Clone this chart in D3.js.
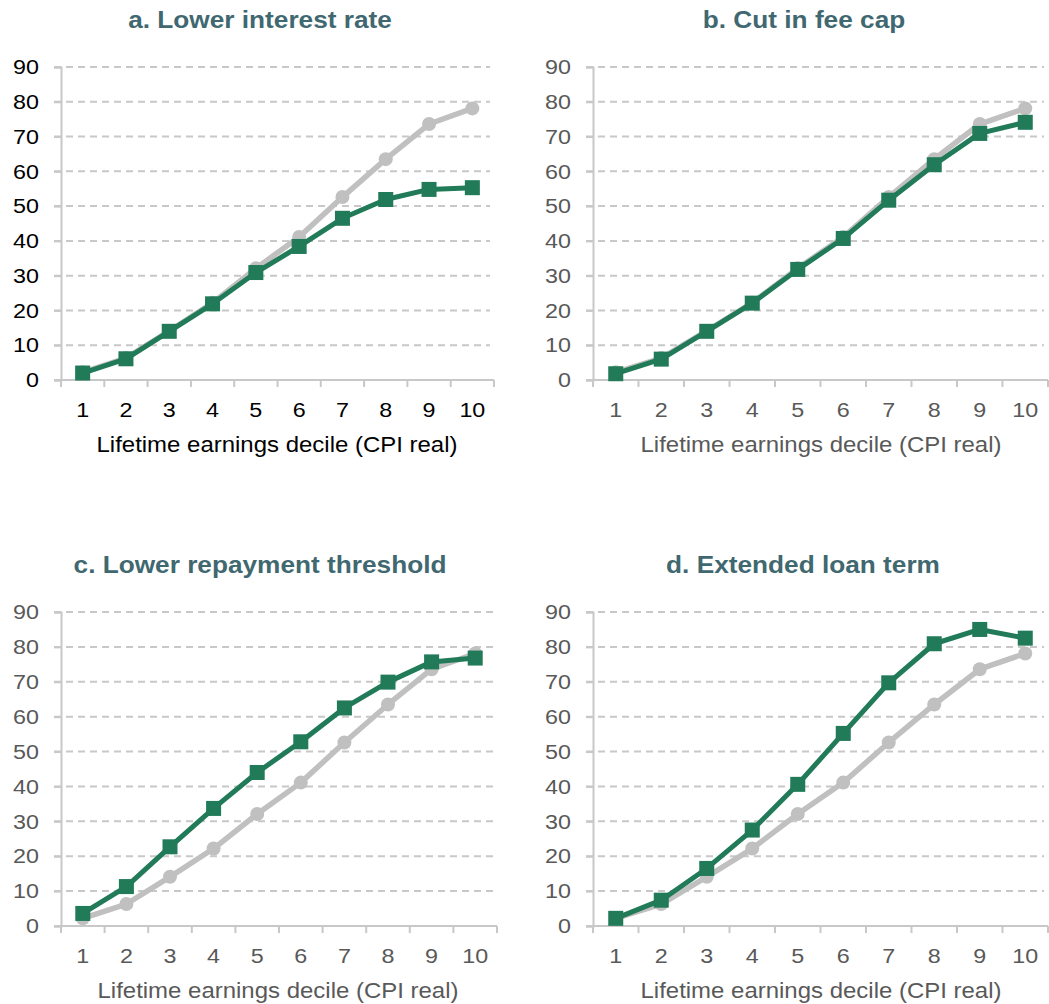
<!DOCTYPE html>
<html>
<head>
<meta charset="utf-8">
<script src="https://cdn.jsdelivr.net/npm/d3@7"></script>
<style>
  html, body { margin: 0; padding: 0; background: #ffffff; }
  svg { display: block; font-family: "Liberation Sans", Arial, sans-serif; }
</style>
</head>
<body>
<svg id="chart" width="1049" height="1004"></svg>
<script>
// Deciles of lifetime earnings (CPI real)
const deciles = [1, 2, 3, 4, 5, 6, 7, 8, 9, 10];
const yTicks = [0, 10, 20, 30, 40, 50, 60, 70, 80, 90];

// Current system, shared by every panel
const baseline = [2.2, 6.3, 14.1, 22.2, 32.1, 41.1, 52.6, 63.5, 73.6, 78.1];

// Alternative policies
const lowerInterest = [2.0, 6.1, 14.0, 21.9, 30.9, 38.4, 46.5, 51.9, 54.8, 55.3];
const feeCapCut = [1.8, 6.0, 14.0, 22.1, 31.8, 40.7, 51.7, 61.9, 70.9, 74.1];
const lowerThreshold = [3.6, 11.3, 22.7, 33.7, 44.0, 52.8, 62.5, 69.9, 75.7, 76.8];
const extendedTerm = [2.2, 7.4, 16.5, 27.5, 40.6, 55.2, 69.7, 80.9, 85.0, 82.5];

const titles = [
  "a. Lower interest rate",
  "b. Cut in fee cap",
  "c. Lower repayment threshold",
  "d. Extended loan term"
];
const policies = [lowerInterest, feeCapCut, lowerThreshold, extendedTerm];
const xTitle = "Lifetime earnings decile (CPI real)";

const GREEN = "#217a58";
const GREY = "#c0c0c0";
const TITLE = "#3f6870";
const GRID = "#c8c8c8";

// Panel frames: plot-area rectangles, title and axis-title centres
const panels = [
  { left: 61, right: 494, top: 67, bottom: 380, titleX: 260, titleY: 28, axisX: 277, textColor: "#000000" },
  { left: 593, right: 1048, top: 67, bottom: 380, titleX: 804, titleY: 28, axisX: 821, textColor: "#595959" },
  { left: 61, right: 497, top: 612, bottom: 926, titleX: 260, titleY: 573, axisX: 278, textColor: "#595959" },
  { left: 593, right: 1048, top: 612, bottom: 926, titleX: 803, titleY: 573, axisX: 821, textColor: "#595959" }
];

// Text is set slightly wide, as in the original export
const TICK_SX = 1.11, AXIS_SX = 1.09, TITLE_SX = 1.14;

const svg = d3.select("#chart");

panels.forEach((p, i) => {
  const g = svg.append("g");

  const x = d3.scaleBand().domain(deciles).range([p.left, p.right]).paddingInner(0).paddingOuter(0);
  const y = d3.scaleLinear().domain([0, 90]).range([p.bottom, p.top]);
  const cx = d => x(d) + x.bandwidth() / 2;

  // Title
  g.append("text")
    .attr("transform", `translate(${p.titleX},${p.titleY}) scale(${TITLE_SX},1)`)
    .attr("text-anchor", "middle")
    .attr("font-size", 23)
    .attr("font-weight", "bold")
    .attr("fill", TITLE)
    .text(titles[i]);

  // Horizontal dashed gridlines
  g.append("g")
    .selectAll("line")
    .data(yTicks.filter(t => t > 0))
    .join("line")
    .attr("x1", p.left - 7)
    .attr("x2", p.right - 4)
    .attr("y1", d => y(d))
    .attr("y2", d => y(d))
    .attr("stroke", GRID)
    .attr("stroke-width", 2)
    .attr("stroke-dasharray", "7,5");

  // Y axis
  const yAxis = g.append("g")
    .attr("transform", `translate(${p.left},0)`)
    .call(d3.axisLeft(y).tickValues(yTicks).tickSize(7).tickPadding(14));
  yAxis.select(".domain").attr("stroke", GRID).attr("stroke-width", 2);
  yAxis.selectAll(".tick line").attr("stroke", GRID).attr("stroke-width", 2);
  yAxis.selectAll(".tick text")
    .attr("x", 0)
    .attr("transform", `translate(-22,0) scale(${TICK_SX},1)`)
    .attr("font-size", 21)
    .attr("fill", p.textColor)
    .attr("font-family", "Liberation Sans, Arial, sans-serif");

  // X axis: ticks at band edges, labels at band centres
  const xAxis = g.append("g").attr("transform", `translate(0,${p.bottom})`);
  xAxis.append("line")
    .attr("x1", p.left - 7).attr("x2", p.right)
    .attr("y1", 0).attr("y2", 0)
    .attr("stroke", GRID).attr("stroke-width", 2);
  const edges = deciles.map(d => x(d)).concat([p.right]);
  xAxis.selectAll("line.edge")
    .data(edges)
    .join("line")
    .attr("class", "edge")
    .attr("x1", d => d).attr("x2", d => d)
    .attr("y1", 0).attr("y2", 7)
    .attr("stroke", GRID).attr("stroke-width", 2);
  xAxis.selectAll("text.lab")
    .data(deciles)
    .join("text")
    .attr("class", "lab")
    .attr("transform", d => `translate(${cx(d)},37) scale(${TICK_SX},1)`)
    .attr("text-anchor", "middle")
    .attr("font-size", 21)
    .attr("fill", p.textColor)
    .text(d => d);

  // Axis title
  g.append("text")
    .attr("transform", `translate(${p.axisX},${p.bottom + 72}) scale(${AXIS_SX},1)`)
    .attr("text-anchor", "middle")
    .attr("font-size", 22)
    .attr("fill", p.textColor)
    .text(xTitle);

  const line = d3.line().x((d, k) => cx(deciles[k])).y(d => y(d));

  // Baseline series: grey line with round markers
  g.append("path")
    .datum(baseline)
    .attr("d", line)
    .attr("fill", "none")
    .attr("stroke", GREY)
    .attr("stroke-width", 5.5)
    .attr("stroke-linejoin", "round");
  g.append("g")
    .selectAll("circle")
    .data(baseline)
    .join("circle")
    .attr("cx", (d, k) => cx(deciles[k]))
    .attr("cy", d => y(d))
    .attr("r", 7)
    .attr("fill", GREY);

  // Policy series: green line with square markers
  const series = policies[i];
  g.append("path")
    .datum(series)
    .attr("d", line)
    .attr("fill", "none")
    .attr("stroke", GREEN)
    .attr("stroke-width", 5)
    .attr("stroke-linejoin", "round");
  const s = 15;
  g.append("g")
    .selectAll("rect")
    .data(series)
    .join("rect")
    .attr("x", (d, k) => cx(deciles[k]) - s / 2)
    .attr("y", d => y(d) - s / 2)
    .attr("width", s)
    .attr("height", s)
    .attr("fill", GREEN);
});
</script>
</body>
</html>
